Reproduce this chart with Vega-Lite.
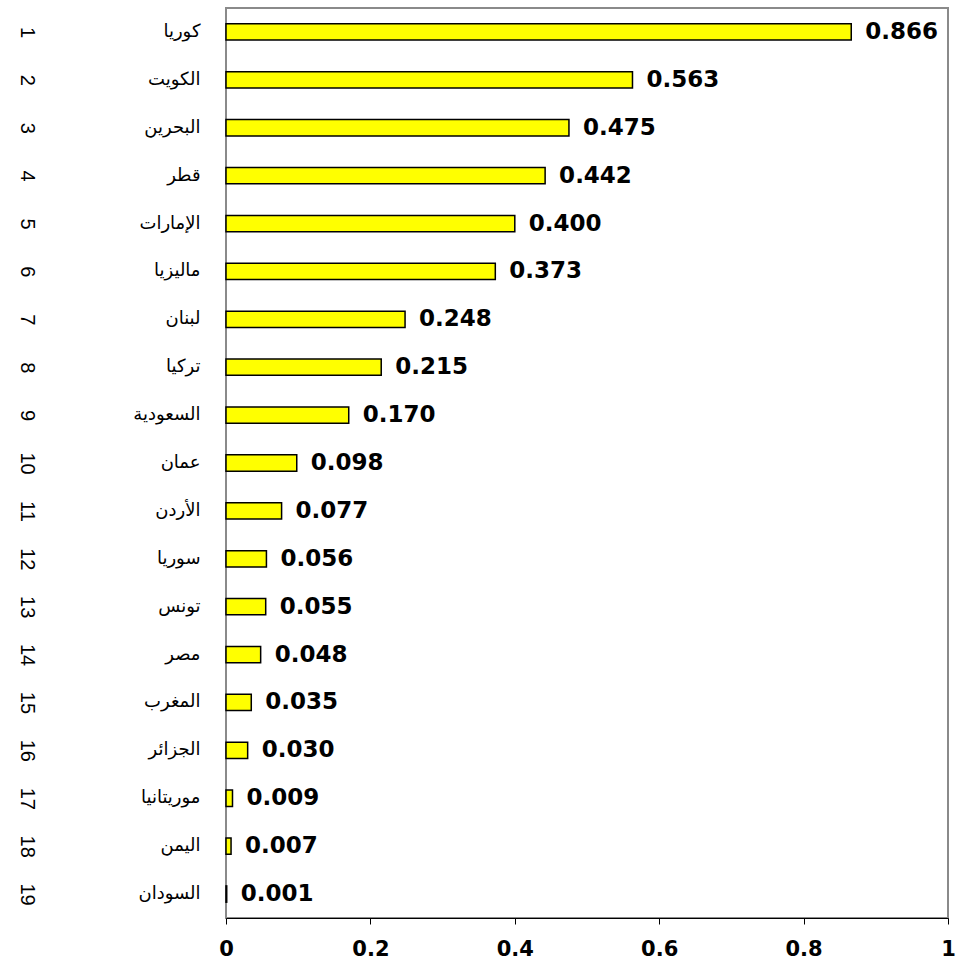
{
  "$schema": "https://vega.github.io/schema/vega-lite/v6.json",
  "width": 722,
  "height": 910,
  "autosize": {"type": "none"},
  "padding": {"left": 226, "top": 8, "right": 9, "bottom": 43},
  "background": "white",
  "config": {
    "view": {"stroke": "#8a8a8a", "strokeWidth": 2},
    "axis": {"grid": false, "title": null}
  },
  "data": {
    "values": [
      {"rank": 1, "country": "كوريا", "value": 0.866},
      {"rank": 2, "country": "الكويت", "value": 0.563},
      {"rank": 3, "country": "البحرين", "value": 0.475},
      {"rank": 4, "country": "قطر", "value": 0.442},
      {"rank": 5, "country": "الإمارات", "value": 0.400},
      {"rank": 6, "country": "ماليزيا", "value": 0.373},
      {"rank": 7, "country": "لبنان", "value": 0.248},
      {"rank": 8, "country": "تركيا", "value": 0.215},
      {"rank": 9, "country": "السعودية", "value": 0.170},
      {"rank": 10, "country": "عمان", "value": 0.098},
      {"rank": 11, "country": "الأردن", "value": 0.077},
      {"rank": 12, "country": "سوريا", "value": 0.056},
      {"rank": 13, "country": "تونس", "value": 0.055},
      {"rank": 14, "country": "مصر", "value": 0.048},
      {"rank": 15, "country": "المغرب", "value": 0.035},
      {"rank": 16, "country": "الجزائر", "value": 0.030},
      {"rank": 17, "country": "موريتانيا", "value": 0.009},
      {"rank": 18, "country": "اليمن", "value": 0.007},
      {"rank": 19, "country": "السودان", "value": 0.001}
    ]
  },
  "layer": [
    {
      "layer": [
        {
          "mark": {"type": "bar", "fill": "#ffff00", "stroke": "#000000", "strokeWidth": 1.5},
          "encoding": {
            "y": {
              "field": "country", "type": "nominal", "sort": {"field": "rank", "order": "ascending"},
              "scale": {"paddingInner": 0.66, "paddingOuter": 0.33},
              "axis": {"domain": false, "ticks": false, "labelPadding": 26, "labelFont": "DejaVu Sans", "labelFontSize": 18, "labelColor": "#000000"}
            },
            "x": {
              "field": "value", "type": "quantitative",
              "scale": {"domain": [0, 1], "nice": false},
              "axis": {"values": [0, 0.2, 0.4, 0.6, 0.8, 1], "labelExpr": "format(datum.value, '~g')", "labelFont": "DejaVu Sans", "labelFontWeight": "bold", "labelFontSize": 21, "labelColor": "#000000", "labelPadding": 14, "tickSize": 6, "tickColor": "#000000", "domainColor": "#000000", "labelFlush": false}
            }
          }
        },
        {
          "mark": {"type": "text", "align": "left", "baseline": "middle", "dx": 14, "font": "DejaVu Sans", "fontWeight": "bold", "fontSize": 23, "color": "#000000"},
          "encoding": {
            "y": {"field": "country", "type": "nominal", "sort": {"field": "rank", "order": "ascending"}},
            "x": {"field": "value", "type": "quantitative"},
            "text": {"field": "value", "type": "quantitative", "format": ".3f"}
          }
        }
      ]
    },
    {
      "mark": {"type": "point", "opacity": 0},
      "encoding": {
        "y": {
          "field": "rank", "type": "ordinal",
          "scale": {"paddingInner": 0.66, "paddingOuter": 0.33},
          "axis": {"orient": "left", "offset": 184, "domain": false, "ticks": false, "labelPadding": 16, "labelAngle": 90, "labelAlign": "center", "labelBaseline": "middle", "labelFont": "Liberation Sans", "labelFontSize": 20, "labelColor": "#000000"}
        }
      }
    }
  ],
  "resolve": {"scale": {"y": "independent"}}
}
